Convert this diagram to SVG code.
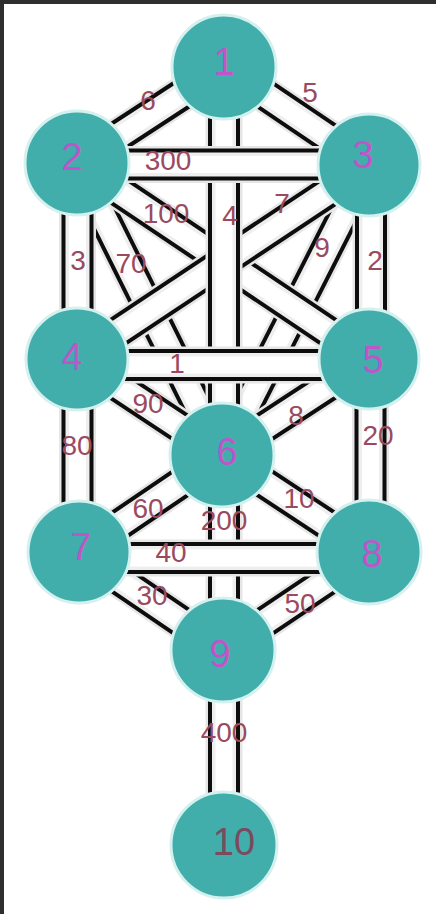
<svg xmlns="http://www.w3.org/2000/svg" xmlns:xlink="http://www.w3.org/1999/xlink" width="436" height="914" viewBox="0 0 436 914">
<style>
.h{stroke:#e6e6e6;stroke-width:37;fill:none}
.k{stroke:#0d0d0d;stroke-width:32;fill:none}
.g{stroke:#eeeeee;stroke-width:24;fill:none}
.w{stroke:#fff;stroke-width:17;fill:none}
.node circle{fill:#41aeab;stroke:#d4f0ef;stroke-width:3}
.nl{font-family:"Liberation Sans",Arial,sans-serif;font-size:38px;fill:#bf55c9;text-anchor:middle}
.el{font-family:"Liberation Sans",Arial,sans-serif;font-size:28px;fill:#9a4a5e;text-anchor:middle}
</style>
<defs>
<line id="l12" x1="224" y1="67" x2="77" y2="163"/>
<line id="l13" x1="224" y1="67" x2="369" y2="165"/>
<line id="l16" x1="224" y1="67" x2="224" y2="455"/>
<line id="l23" x1="77" y1="164.5" x2="369" y2="164.5"/>
<line id="l24" x1="77.5" y1="163" x2="77.5" y2="359"/>
<line id="l25" x1="77" y1="163" x2="369" y2="359"/>
<line id="l26" x1="77" y1="163" x2="222" y2="455"/>
<line id="l34" x1="369" y1="165" x2="77" y2="359"/>
<line id="l35" x1="371" y1="165" x2="371" y2="359"/>
<line id="l36" x1="369" y1="165" x2="222" y2="455"/>
<line id="l45" x1="77" y1="365" x2="369" y2="365"/>
<line id="l46" x1="77" y1="359" x2="222" y2="455"/>
<line id="l56" x1="369" y1="359" x2="222" y2="455"/>
<line id="l47" x1="77.5" y1="359" x2="77.5" y2="552"/>
<line id="l58" x1="370.5" y1="359" x2="370.5" y2="552"/>
<line id="l67" x1="222" y1="455" x2="79" y2="552"/>
<line id="l68" x1="222" y1="455" x2="369" y2="552"/>
<line id="l69" x1="224" y1="455" x2="224" y2="650"/>
<line id="l78" x1="79" y1="558" x2="369" y2="558"/>
<line id="l79" x1="79" y1="552" x2="223" y2="650"/>
<line id="l89" x1="369" y1="552" x2="223" y2="650"/>
<line id="l910" x1="224" y1="650" x2="224" y2="845"/>
</defs>
<rect x="0" y="0" width="436" height="914" fill="#2e2e2e"/>
<rect x="4" y="4" width="432" height="910" fill="#ffffff"/>
<g id="connectors">
<g id="path-1-2"><use xlink:href="#l12" class="h"/><use xlink:href="#l12" class="k"/><use xlink:href="#l12" class="g"/><use xlink:href="#l12" class="w"/></g>
<g id="path-1-3"><use xlink:href="#l13" class="h"/><use xlink:href="#l13" class="k"/><use xlink:href="#l13" class="g"/><use xlink:href="#l13" class="w"/></g>
<g id="path-2-6"><use xlink:href="#l26" class="h"/><use xlink:href="#l26" class="k"/><use xlink:href="#l26" class="g"/><use xlink:href="#l26" class="w"/></g>
<g id="path-3-6"><use xlink:href="#l36" class="h"/><use xlink:href="#l36" class="k"/><use xlink:href="#l36" class="g"/><use xlink:href="#l36" class="w"/></g>
<g id="path-4-6"><use xlink:href="#l46" class="h"/><use xlink:href="#l46" class="k"/><use xlink:href="#l46" class="g"/><use xlink:href="#l46" class="w"/></g>
<g id="path-5-6"><use xlink:href="#l56" class="h"/><use xlink:href="#l56" class="k"/><use xlink:href="#l56" class="g"/><use xlink:href="#l56" class="w"/></g>
<g id="path-2-4"><use xlink:href="#l24" class="h"/><use xlink:href="#l24" class="k"/><use xlink:href="#l24" class="g"/><use xlink:href="#l24" class="w"/></g>
<g id="path-3-5"><use xlink:href="#l35" class="h"/><use xlink:href="#l35" class="k"/><use xlink:href="#l35" class="g"/><use xlink:href="#l35" class="w"/></g>
<g id="path-4-7"><use xlink:href="#l47" class="h"/><use xlink:href="#l47" class="k"/><use xlink:href="#l47" class="g"/><use xlink:href="#l47" class="w"/></g>
<g id="path-5-8"><use xlink:href="#l58" class="h"/><use xlink:href="#l58" class="k"/><use xlink:href="#l58" class="g"/><use xlink:href="#l58" class="w"/></g>
<g id="path-2-5"><use xlink:href="#l25" class="h"/><use xlink:href="#l25" class="k"/><use xlink:href="#l25" class="g"/><use xlink:href="#l25" class="w"/></g>
<g id="path-3-4"><use xlink:href="#l34" class="h"/><use xlink:href="#l34" class="k"/><use xlink:href="#l34" class="g"/><use xlink:href="#l34" class="w"/></g>
<g id="path-1-6"><use xlink:href="#l16" class="h"/><use xlink:href="#l16" class="k"/><use xlink:href="#l16" class="g"/><use xlink:href="#l16" class="w"/></g>
<g id="path-2-3"><use xlink:href="#l23" class="h"/><use xlink:href="#l23" class="k"/><use xlink:href="#l23" class="g"/><use xlink:href="#l23" class="w"/></g>
<g id="path-4-5"><use xlink:href="#l45" class="h"/><use xlink:href="#l45" class="k"/><use xlink:href="#l45" class="g"/><use xlink:href="#l45" class="w"/></g>
<g id="path-6-7"><use xlink:href="#l67" class="h"/><use xlink:href="#l67" class="k"/><use xlink:href="#l67" class="g"/><use xlink:href="#l67" class="w"/></g>
<g id="path-6-8"><use xlink:href="#l68" class="h"/><use xlink:href="#l68" class="k"/><use xlink:href="#l68" class="g"/><use xlink:href="#l68" class="w"/></g>
<g id="path-6-9"><use xlink:href="#l69" class="h"/><use xlink:href="#l69" class="k"/><use xlink:href="#l69" class="g"/><use xlink:href="#l69" class="w"/></g>
<g id="path-7-9"><use xlink:href="#l79" class="h"/><use xlink:href="#l79" class="k"/><use xlink:href="#l79" class="g"/><use xlink:href="#l79" class="w"/></g>
<g id="path-8-9"><use xlink:href="#l89" class="h"/><use xlink:href="#l89" class="k"/><use xlink:href="#l89" class="g"/><use xlink:href="#l89" class="w"/></g>
<g id="path-7-8"><use xlink:href="#l78" class="h"/><use xlink:href="#l78" class="k"/><use xlink:href="#l78" class="g"/><use xlink:href="#l78" class="w"/></g>
<g id="path-9-10"><use xlink:href="#l910" class="h"/><use xlink:href="#l910" class="k"/><use xlink:href="#l910" class="g"/><use xlink:href="#l910" class="w"/></g>
</g>
<g id="edge-labels">
<text class="el" x="148" y="110">6</text>
<text class="el" x="310" y="102">5</text>
<text class="el" x="168" y="170">300</text>
<text class="el" x="166" y="223">100</text>
<text class="el" x="230" y="225">4</text>
<text class="el" x="282" y="213">7</text>
<text class="el" x="78" y="270">3</text>
<text class="el" x="131" y="273">70</text>
<text class="el" x="322" y="257">9</text>
<text class="el" x="375" y="270">2</text>
<text class="el" x="177" y="373">1</text>
<text class="el" x="148" y="413">90</text>
<text class="el" x="296" y="425">8</text>
<text class="el" x="77" y="455">80</text>
<text class="el" x="378" y="445">20</text>
<text class="el" x="148" y="518">60</text>
<text class="el" x="299" y="508">10</text>
<text class="el" x="224" y="530">200</text>
<text class="el" x="171" y="562">40</text>
<text class="el" x="152" y="605">30</text>
<text class="el" x="300" y="613">50</text>
<text class="el" x="224" y="742">400</text>
</g>
<g id="node-1" class="node"><circle cx="224" cy="67" r="52"/><text class="nl" x="224" y="75">1</text></g>
<g id="node-2" class="node"><circle cx="77" cy="163" r="52"/><text class="nl" x="72" y="170">2</text></g>
<g id="node-3" class="node"><circle cx="369" cy="165" r="51"/><text class="nl" x="363" y="168">3</text></g>
<g id="node-4" class="node"><circle cx="77" cy="359" r="51"/><text class="nl" x="72" y="370">4</text></g>
<g id="node-5" class="node"><circle cx="369" cy="359" r="50"/><text class="nl" x="373" y="373">5</text></g>
<g id="node-6" class="node"><circle cx="222" cy="455" r="52"/><text class="nl" x="227" y="465">6</text></g>
<g id="node-7" class="node"><circle cx="79" cy="552" r="51"/><text class="nl" x="81" y="560">7</text></g>
<g id="node-8" class="node"><circle cx="369" cy="552" r="52"/><text class="nl" x="372" y="567">8</text></g>
<g id="node-9" class="node"><circle cx="223" cy="650" r="52"/><text class="nl" x="220" y="667">9</text></g>
<g id="node-10" class="node"><circle cx="224" cy="845" r="53"/><text class="nl" x="234" y="855" style="fill:#7b4a5e">10</text></g>
</svg>
